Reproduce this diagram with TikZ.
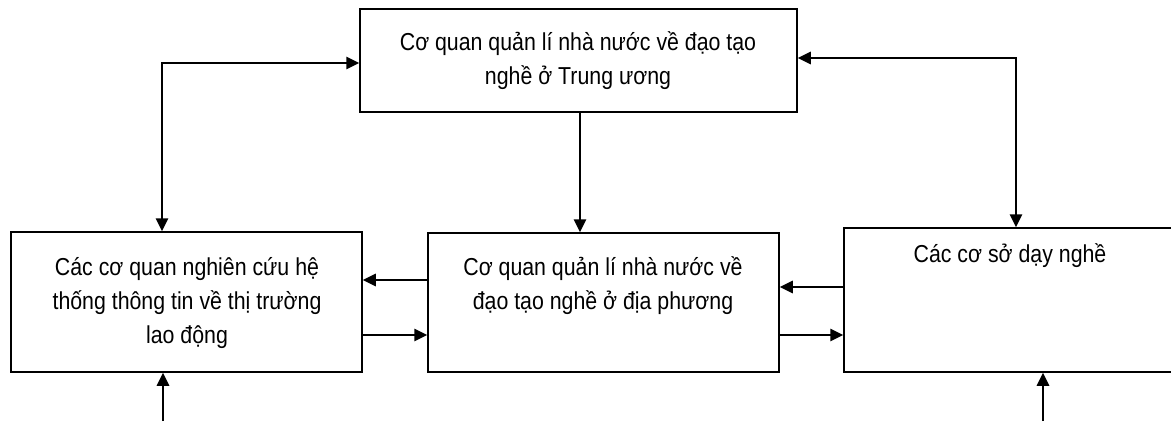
\documentclass[tikz,border=0pt]{standalone}
\usepackage{fontspec}
\setmainfont{Liberation Sans}[FakeStretch=0.87]
\usetikzlibrary{arrows.meta}
\tikzset{
  box/.style={draw, line width=1.5pt, inner sep=0pt},
  lbl/.style={align=center, font=\fontsize{24.5}{34}\selectfont, inner sep=0pt},
  arr/.style={line width=2.6pt, -{Triangle[length=13pt,width=12pt]}},
  biarr/.style={line width=2.6pt, {Triangle[length=13pt,width=12pt]}-{Triangle[length=13pt,width=12pt]}}
}
\begin{document}
\begin{tikzpicture}[x=1pt,y=-1pt]
\useasboundingbox (0,0) rectangle (1171,421);
\begin{scope}
\clip (0,0) rectangle (1171,421);
% boxes
\node[box, minimum width=437pt, minimum height=103pt] (top) at (578.5,60.5) {};
\node[box, minimum width=351pt, minimum height=140pt] (left) at (186.5,302) {};
\node[box, minimum width=351pt, minimum height=139pt] (mid) at (603.5,302.5) {};
\node[box, minimum width=334pt, minimum height=144pt] (right) at (1011,300) {};
\end{scope}
% labels
\node[lbl] (ttop) at (578,61) {Cơ quan quản lí nhà nước về đạo tạo\\nghề ở Trung ương};
\node[lbl] (tleft) at (187,303) {Các cơ quan nghiên cứu hệ\\thống thông tin về thị trường\\lao động};
\node[lbl] (tmid) at (603,286) {Cơ quan quản lí nhà nước về\\đạo tạo nghề ở địa phương};
\node[lbl] (tright) at (1010,256) {Các cơ sở dạy nghề};
% connector helper coordinates
\coordinate (lt) at (162,63);
\coordinate (rt) at (1016,58);
\coordinate (tm) at (580,0);
\coordinate (b1) at (163,421);
\coordinate (b2) at (1043,421);
% connectors
\draw[biarr] (lt |- left.north) |- (top.west |- lt);
\draw[biarr] (rt |- right.north) |- (top.east |- rt);
\draw[arr] (tm |- top.south) -- (tm |- mid.north);
\draw[arr] (mid.west |- 0,280) -- (left.east |- 0,280);
\draw[arr] (left.east |- 0,335) -- (mid.west |- 0,335);
\draw[arr] (right.west |- 0,287) -- (mid.east |- 0,287);
\draw[arr] (mid.east |- 0,335) -- (right.west |- 0,335);
\draw[arr] (b1) -- (b1 |- left.south);
\draw[arr] (b2) -- (b2 |- right.south);
\end{tikzpicture}
\end{document}
